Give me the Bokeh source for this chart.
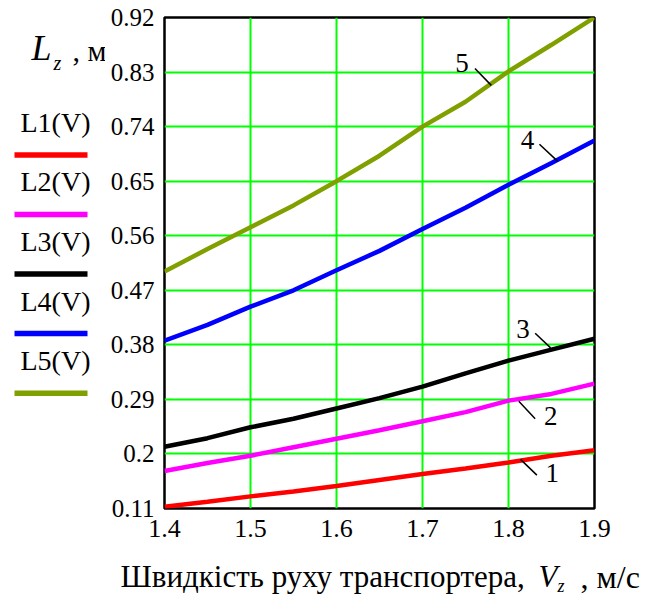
from bokeh.plotting import figure
from bokeh.layouts import row, column
from bokeh.models import Range1d, FixedTicker
from bokeh.core.properties import value
from bokeh.embed import file_html
from bokeh.resources import INLINE

# ---- data ----
V = [1.40, 1.45, 1.50, 1.55, 1.60, 1.65, 1.70, 1.75, 1.80, 1.85, 1.90]
L1 = [0.113, 0.121, 0.130, 0.138, 0.147, 0.157, 0.167, 0.176, 0.186, 0.197, 0.206]
L2 = [0.172, 0.185, 0.197, 0.211, 0.225, 0.239, 0.254, 0.269, 0.288, 0.299, 0.316]
L3 = [0.212, 0.226, 0.244, 0.258, 0.275, 0.292, 0.311, 0.333, 0.354, 0.372, 0.390]
L4 = [0.387, 0.413, 0.443, 0.470, 0.503, 0.535, 0.571, 0.606, 0.644, 0.680, 0.717]
L5 = [0.501, 0.538, 0.574, 0.610, 0.650, 0.692, 0.740, 0.781, 0.831, 0.875, 0.920]
series_names = ["L1(V)", "L2(V)", "L3(V)", "L4(V)", "L5(V)"]
series_colors = ["#ff0000", "#ff00ff", "#000000", "#0000ff", "#80a000"]

y_ticks = [0.11, 0.20, 0.29, 0.38, 0.47, 0.56, 0.65, 0.74, 0.83, 0.92]
y_tick_labels = ["0.11", "0.2", "0.29", "0.38", "0.47", "0.56", "0.65", "0.74", "0.83", "0.92"]
x_ticks = [1.4, 1.5, 1.6, 1.7, 1.8, 1.9]
x_tick_labels = ["1.4", "1.5", "1.6", "1.7", "1.8", "1.9"]

curve_labels = ["1", "2", "3", "4", "5"]
lab_x = [1.851, 1.849, 1.817, 1.822, 1.746]
lab_y = [0.168, 0.262, 0.406, 0.718, 0.845]
lead_x0 = [1.814, 1.812, 1.831, 1.836, 1.761]
lead_y0 = [0.191, 0.287, 0.399, 0.711, 0.836]
lead_x1 = [1.833, 1.831, 1.849, 1.857, 1.780]
lead_y1 = [0.165, 0.258, 0.375, 0.683, 0.808]

x_title_main = "Швидкість руху транспортера,"
x_title_var = "V"
x_title_sub = "z"
x_title_unit = ", м/с"
y_title_var = "L"
y_title_sub = "z"
y_title_unit = ", м"

FONT = "Liberation Serif"
TOTAL_W = 649
TOP_H = 550
BOT_H = 47
LEFT_W = 105
MAIN_W = TOTAL_W - LEFT_W


def blank(width, height):
    f = figure(width=width, height=height, output_backend="svg", toolbar_location=None,
               x_range=Range1d(0, width), y_range=Range1d(height, 0),
               min_border=0, min_border_left=0, min_border_right=0,
               min_border_top=0, min_border_bottom=0)
    f.axis.visible = False
    f.grid.visible = False
    f.outline_line_color = None
    f.background_fill_color = "white"
    f.border_fill_color = "white"
    return f


def put(f, x, y, txt, size, italic=False, align="left"):
    f.text(x=[x], y=[y], text=[txt], text_font=value(FONT), text_font_size=f"{size}px",
           text_font_style="italic" if italic else "normal", text_align=align,
           text_baseline="middle", text_color="black")


# ---- left panel: y title and legend ----
lp = blank(LEFT_W, TOP_H)
put(lp, 31, 34, y_title_var, 36, italic=True)
put(lp, 53, 51, y_title_sub, 20, italic=True)
put(lp, 72, 37, y_title_unit, 30)

step = 66.7
for i, (nm, col) in enumerate(zip(series_names, series_colors)):
    put(lp, 20, 117.5 + i * step, nm, 28)
    lp.segment(x0=[14], y0=[154 + i * step], x1=[87], y1=[154 + i * step],
               line_color=col, line_width=5.5)

# ---- main plot ----
p = figure(width=MAIN_W, height=TOP_H, output_backend="svg", toolbar_location=None,
           x_range=Range1d(1.4, 1.9), y_range=Range1d(0.11, 0.92),
           min_border_left=164 - LEFT_W, min_border_right=MAIN_W - (594 - LEFT_W),
           min_border_top=17, min_border_bottom=TOP_H - 508)
p.background_fill_color = "white"
p.border_fill_color = "white"
p.outline_line_color = "black"
p.outline_line_width = 2.5

for ax in (p.xaxis[0], p.yaxis[0]):
    ax.axis_line_color = None
    ax.major_tick_line_color = None
    ax.minor_tick_line_color = None
    ax.major_tick_in = 0
    ax.major_tick_out = 0
    ax.minor_tick_in = 0
    ax.minor_tick_out = 0
    ax.major_label_text_font = FONT
    ax.major_label_text_color = "black"

p.yaxis[0].ticker = FixedTicker(ticks=y_ticks)
p.yaxis[0].major_label_overrides = dict(zip(y_ticks, y_tick_labels))
p.yaxis[0].major_label_text_font_size = "25px"
p.yaxis[0].major_label_standoff = 10
p.xaxis[0].ticker = FixedTicker(ticks=x_ticks)
p.xaxis[0].major_label_overrides = dict(zip(x_ticks, x_tick_labels))
p.xaxis[0].major_label_text_font_size = "26px"
p.xaxis[0].major_label_standoff = 11

p.xgrid[0].ticker = FixedTicker(ticks=x_ticks)
p.ygrid[0].ticker = FixedTicker(ticks=y_ticks)
for g in (p.xgrid[0], p.ygrid[0]):
    g.grid_line_color = "#00ff00"
    g.grid_line_width = 2
    g.grid_line_alpha = 1.0

for ys, col in zip([L1, L2, L3, L4, L5], series_colors):
    p.line(V, ys, line_color=col, line_width=4.5)

p.segment(x0=lead_x0, y0=lead_y0, x1=lead_x1, y1=lead_y1, line_color="black", line_width=1.5)
p.text(x=lab_x, y=lab_y, text=curve_labels, text_font=value(FONT), text_font_size="27px",
       text_align="center", text_baseline="middle", text_color="black")

# ---- bottom panel: x title ----
bp = blank(TOTAL_W, BOT_H)
put(bp, 120, 26, x_title_main, 31)
put(bp, 538, 26, x_title_var, 31, italic=True)
put(bp, 557, 35, x_title_sub, 18, italic=True)
put(bp, 580, 26, x_title_unit, 32)

layout = column(row(lp, p), bp)
open("out.html", "w").write(file_html(layout, INLINE))
